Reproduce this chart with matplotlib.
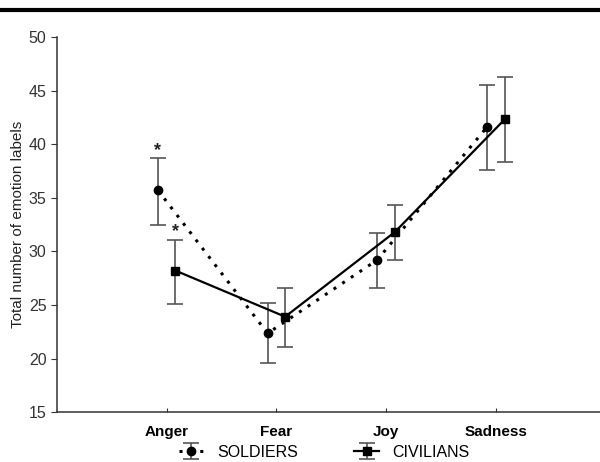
import matplotlib
matplotlib.use("Agg")
import matplotlib.pyplot as plt
from matplotlib.lines import Line2D
import numpy as np

plt.rcParams['font.family'] = ['Liberation Sans', 'DejaVu Sans']

# Data
emotions = ["Anger", "Fear", "Joy", "Sadness"]
soldiers_mean = [35.7, 22.35, 29.2, 41.6]
soldiers_low = [32.5, 19.55, 26.6, 37.6]
soldiers_high = [38.7, 25.15, 31.75, 45.5]
civilians_mean = [28.2, 23.9, 31.8, 42.3]
civilians_low = [25.1, 21.1, 29.2, 38.3]
civilians_high = [31.1, 26.6, 34.3, 46.3]
y_ticks = [15, 20, 25, 30, 35, 40, 45, 50]

x = np.arange(len(emotions))
offset = 0.08

fig = plt.figure(figsize=(6, 4.62), dpi=100)
ax = fig.add_axes([0.095, 0.108, 0.905, 0.812])

sm = np.array(soldiers_mean)
cm = np.array(civilians_mean)
s_err = [sm - np.array(soldiers_low), np.array(soldiers_high) - sm]
c_err = [cm - np.array(civilians_low), np.array(civilians_high) - cm]

ax.errorbar(x - offset, sm, yerr=s_err, fmt='o', color='black', markersize=6,
            ls=(0, (1, 2.4)), lw=2.2, ecolor='#555555', elinewidth=1.2,
            capsize=6, capthick=1.2, label='SOLDIERS', zorder=3)
ax.errorbar(x + offset, cm, yerr=c_err, fmt='s', color='black', markersize=6,
            ls='-', lw=1.6, ecolor='#555555', elinewidth=1.2,
            capsize=6, capthick=1.2, label='CIVILIANS', zorder=3)

# significance markers on Anger
ax.text(x[0] - offset, soldiers_high[0] + 0.7, '*', ha='center', va='center',
        fontsize=13, fontweight='bold', color='#222222')
ax.text(x[0] + offset, civilians_high[0] + 0.7, '*', ha='center', va='center',
        fontsize=13, fontweight='bold', color='#222222')

ax.set_xlim(-1, 3.95)
ax.set_ylim(15, 50)
ax.set_yticks(y_ticks)
ax.set_xticks(x)
ax.set_xticklabels(emotions, fontweight='bold', fontsize=11)
ax.tick_params(axis='x', direction='in', length=3, color='#333333', pad=9)
ax.tick_params(axis='y', direction='out', length=4, color='#333333',
               labelsize=11.5, labelcolor='#333333')
ax.set_ylabel('Total number of emotion labels', fontsize=11, color='#222222',
              labelpad=3)

for side in ['top', 'right']:
    ax.spines[side].set_visible(False)
for side in ['left', 'bottom']:
    ax.spines[side].set_color('#333333')
    ax.spines[side].set_linewidth(1.1)

leg = fig.legend(loc='lower center', bbox_to_anchor=(0.54, -0.026), ncol=2,
                 frameon=False, fontsize=11.5, handlelength=1.6,
                 columnspacing=3.5, handletextpad=0.8)

# rule across the top of the figure
fig.add_artist(Line2D([0, 1], [0.978, 0.978], color='black', lw=3,
                      transform=fig.transFigure))

fig.savefig('out.png', dpi=100)
